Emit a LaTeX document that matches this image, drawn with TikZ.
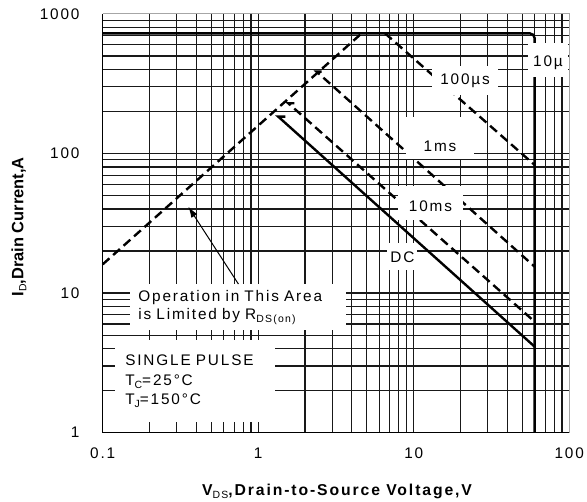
\documentclass[tikz,border=0pt]{standalone}
\usepackage{fontspec}
\setmainfont{Liberation Sans}[LetterSpace=12]
\newfontfamily\ylabfont{Liberation Sans}
\usetikzlibrary{arrows.meta}
\newcommand{\lowsub}[1]{\raisebox{-3bp}{\mdseries\fontsize{10.5}{12}\selectfont #1}}
\begin{document}
\begin{tikzpicture}[x=155.5bp,y=139.6bp,font=\fontsize{15.4}{18}\selectfont,
    grid/.style={line width=1.2bp,black!90},
    soa/.style={line width=2.4bp},
    pulsed/.style={line width=2.4bp,dash pattern=on 9bp off 5bp},
    tag/.style={fill=white,inner sep=0pt,align=center,anchor=base},
    textbox/.style={fill=white,inner sep=0pt,align=left,anchor=north west}]
      \useasboundingbox (-0.6605,-0.4893) rectangle (3.1145,3.0996);
      \foreach \d in {0,1,2}
        \foreach \k in {1,...,9}
          {\draw[grid] ({\d+log10(\k)},0) -- ({\d+log10(\k)},3);
           \draw[grid] (0,{\d+log10(\k)}) -- (3,{\d+log10(\k)});}
      \coordinate (lim0) at (0,2.861);
      \coordinate (corner) at (2.778,2.861);
      \coordinate (foot) at (2.778,0);
      \coordinate (rds0) at (0,1.206);
      \coordinate (peak) at (1.6656,2.861);
      \coordinate (us0) at (1.8154,2.861);
      \coordinate (us1) at (2.778,1.9176);
      \coordinate (ms0) at (1.376,2.586);
      \coordinate (ms1) at (2.778,1.189);
      \coordinate (tms0) at (1.1936,2.3596);
      \coordinate (tms1) at (2.778,0.795);
      \coordinate (dc0) at (1.1293,2.2636);
      \coordinate (dc1) at (2.778,0.616);
      \coordinate (rdstip) at (0.5505,1.6189);
      \draw[soa,rounded corners=5bp] (lim0) -- (corner) -- (foot);
      \draw[pulsed] (rds0) -- (peak);
      \draw[pulsed] (us0) -- (us1);
      \draw[pulsed] ([xshift=5bp]ms0) -- (ms0) -- (ms1);
      \draw[pulsed] ([xshift=6bp]tms0) -- (tms0) -- (tms1);
      \draw[soa] ([xshift=7bp]dc0) -- (dc0) -- (dc1);
      \node[tag,text width=40bp,text height=23.7bp,text depth=10.3bp] (t10u) at (2.8637,2.622) {10µ};
      \node[tag,text width=66bp,text height=19bp,text depth=10bp] (t100us) at (2.330,2.4907) {100µs};
      \node[tag,text width=68bp,text height=34.7bp,text depth=7.3bp] (t1ms) at (2.169,2.0129) {1ms};
      \node[tag,text width=65bp,text height=25.7bp,text depth=8.3bp] (t10ms) at (2.108,1.5831) {10ms};
      \node[tag,text width=30bp,text height=20bp,text depth=7bp] (tdc) at (1.9273,1.2156) {DC};
      \node[textbox,minimum width=216bp,minimum height=46bp,text width=200bp] (oparea) at (0.1768,1.0652)
        {Operation in This Area\\is Limited by R\lowsub{DS(on)}};
      \node[textbox,minimum width=160bp,minimum height=82bp,text width=140bp,font=\fontsize{15.4}{20}\selectfont] (cond) at (0.0797,0.6640)
        {SINGLE PULSE\\T\lowsub{C}=25°C\\T\lowsub{J}=150°C};
      \draw[-{Latex[length=11bp,width=7bp]},line width=1bp] (oparea.north) -- (rdstip);
      \draw[line width=1bp,gray!70] (0,3) -- (3,3) -- (3,0);
      \draw[line width=1.2bp] (0,3) -- (0,0) -- (3,0);
      \draw
        (-0.127,0) node[anchor=east] (y1){1}
        (-0.127,1) node[anchor=east] (y10){10}
        (-0.127,2) node[anchor=east] (y100){100}
        (-0.127,3) node[anchor=east] (y1000){1000};
      \draw
        (0,-0.1834) node[anchor=base] (x01){0.1}
        (1,-0.1834) node[anchor=base] (x1){1}
        (2,-0.1834) node[anchor=base] (x10){10}
        (3,-0.1834) node[anchor=base] (x100){100};
      \node[anchor=base,font=\fontsize{15.8}{18}\selectfont\bfseries] (xlab) at (1.5068,-0.45)
        {V\lowsub{DS},Drain-to-Source Voltage,V};
      \node[rotate=90,anchor=base,font=\ylabfont\fontsize{16.5}{18}\selectfont\bfseries] (ylab) at (-0.5106,1.4735)
        {I\lowsub{D},Drain Current,A};
    \end{tikzpicture}
\end{document}
